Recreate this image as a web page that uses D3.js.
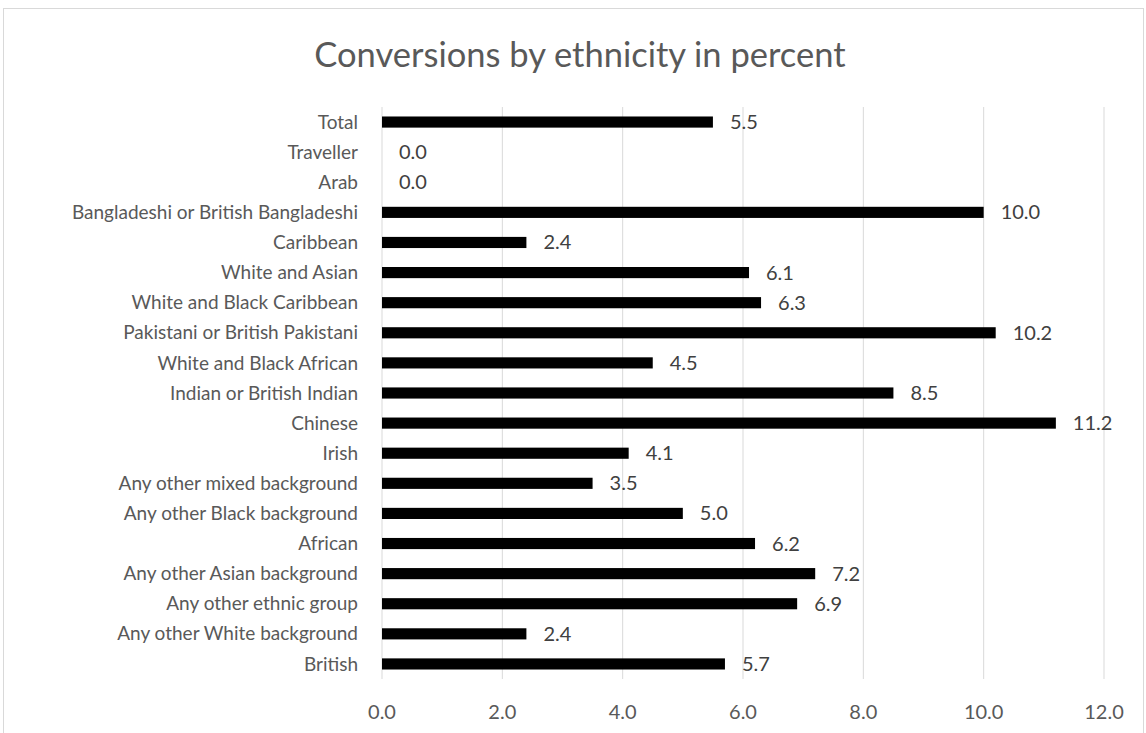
<!DOCTYPE html>
<html>
<head>
<meta charset="utf-8">
<script src="https://cdn.jsdelivr.net/npm/d3@7"></script>
<style>
  body { margin: 0; background: #fff; }
  svg text { font-family: Lato, "Open Sans", sans-serif; }
</style>
</head>
<body>
<div id="chart"></div>
<script>
const categories = ["Total", "Traveller", "Arab", "Bangladeshi or British Bangladeshi", "Caribbean",
    "White and Asian", "White and Black Caribbean", "Pakistani or British Pakistani",
    "White and Black African", "Indian or British Indian", "Chinese", "Irish",
    "Any other mixed background", "Any other Black background", "African",
    "Any other Asian background", "Any other ethnic group", "Any other White background", "British"]
const values = [5.5, 0.0, 0.0, 10.0, 2.4, 6.1, 6.3, 10.2, 4.5, 8.5, 11.2, 4.1, 3.5, 5.0, 6.2, 7.2, 6.9, 2.4, 5.7]
const xTicks = [0, 2, 4, 6, 8, 10, 12]

const width = 1146, height = 733
const margin = ({ top: 107, right: 42, bottom: 54, left: 382 })

const svg = d3.select("#chart").append("svg")
    .attr("width", width)
    .attr("height", height)

// chart frame
svg.append("rect")
    .attr("x", 3.5).attr("y", 8.5)
    .attr("width", width - 6).attr("height", height)
    .attr("fill", "#fff")
    .attr("stroke", "#d9d9d9")

svg.append("text")
    .attr("x", 580).attr("y", 67)
    .attr("text-anchor", "middle")
    .attr("font-size", 34.5)
    .attr("fill", "#595959")
    .text("Conversions by ethnicity in percent")

const x = d3.scaleLinear()
    .domain([0, 12])
    .range([margin.left, width - margin.right])

const y = d3.scaleBand()
    .domain(categories)
    .range([margin.top, height - margin.bottom])
    .paddingInner(0.63)
    .paddingOuter(0.315)

// gridlines
svg.append("g")
    .selectAll("line")
    .data(xTicks)
    .join("line")
    .attr("x1", d => x(d)).attr("x2", d => x(d))
    .attr("y1", margin.top).attr("y2", height - margin.bottom)
    .attr("stroke", "#d9d9d9")
    .attr("stroke-width", 1)

// x tick labels
svg.append("g")
    .selectAll("text")
    .data(xTicks)
    .join("text")
    .attr("x", d => x(d))
    .attr("y", 719)
    .attr("text-anchor", "middle")
    .attr("font-size", 20)
    .attr("fill", "#595959")
    .text(d => d3.format(".1f")(d))

// category labels
svg.append("g")
    .selectAll("text")
    .data(categories)
    .join("text")
    .attr("x", margin.left - 24)
    .attr("y", d => y(d) + y.bandwidth() / 2)
    .attr("dy", "0.35em")
    .attr("text-anchor", "end")
    .attr("font-size", 19)
    .attr("fill", "#595959")
    .text(d => d)

// bars
svg.append("g")
    .selectAll("rect")
    .data(values)
    .join("rect")
    .attr("x", x(0))
    .attr("y", (d, i) => y(categories[i]))
    .attr("width", d => x(d) - x(0))
    .attr("height", y.bandwidth())
    .attr("fill", "#000")

// value labels
svg.append("g")
    .selectAll("text")
    .data(values)
    .join("text")
    .attr("x", d => x(d) + 17)
    .attr("y", (d, i) => y(categories[i]) + y.bandwidth() / 2)
    .attr("dy", "0.35em")
    .attr("font-size", 20)
    .attr("fill", "#404040")
    .text(d => d3.format(".1f")(d))
</script>
</body>
</html>
